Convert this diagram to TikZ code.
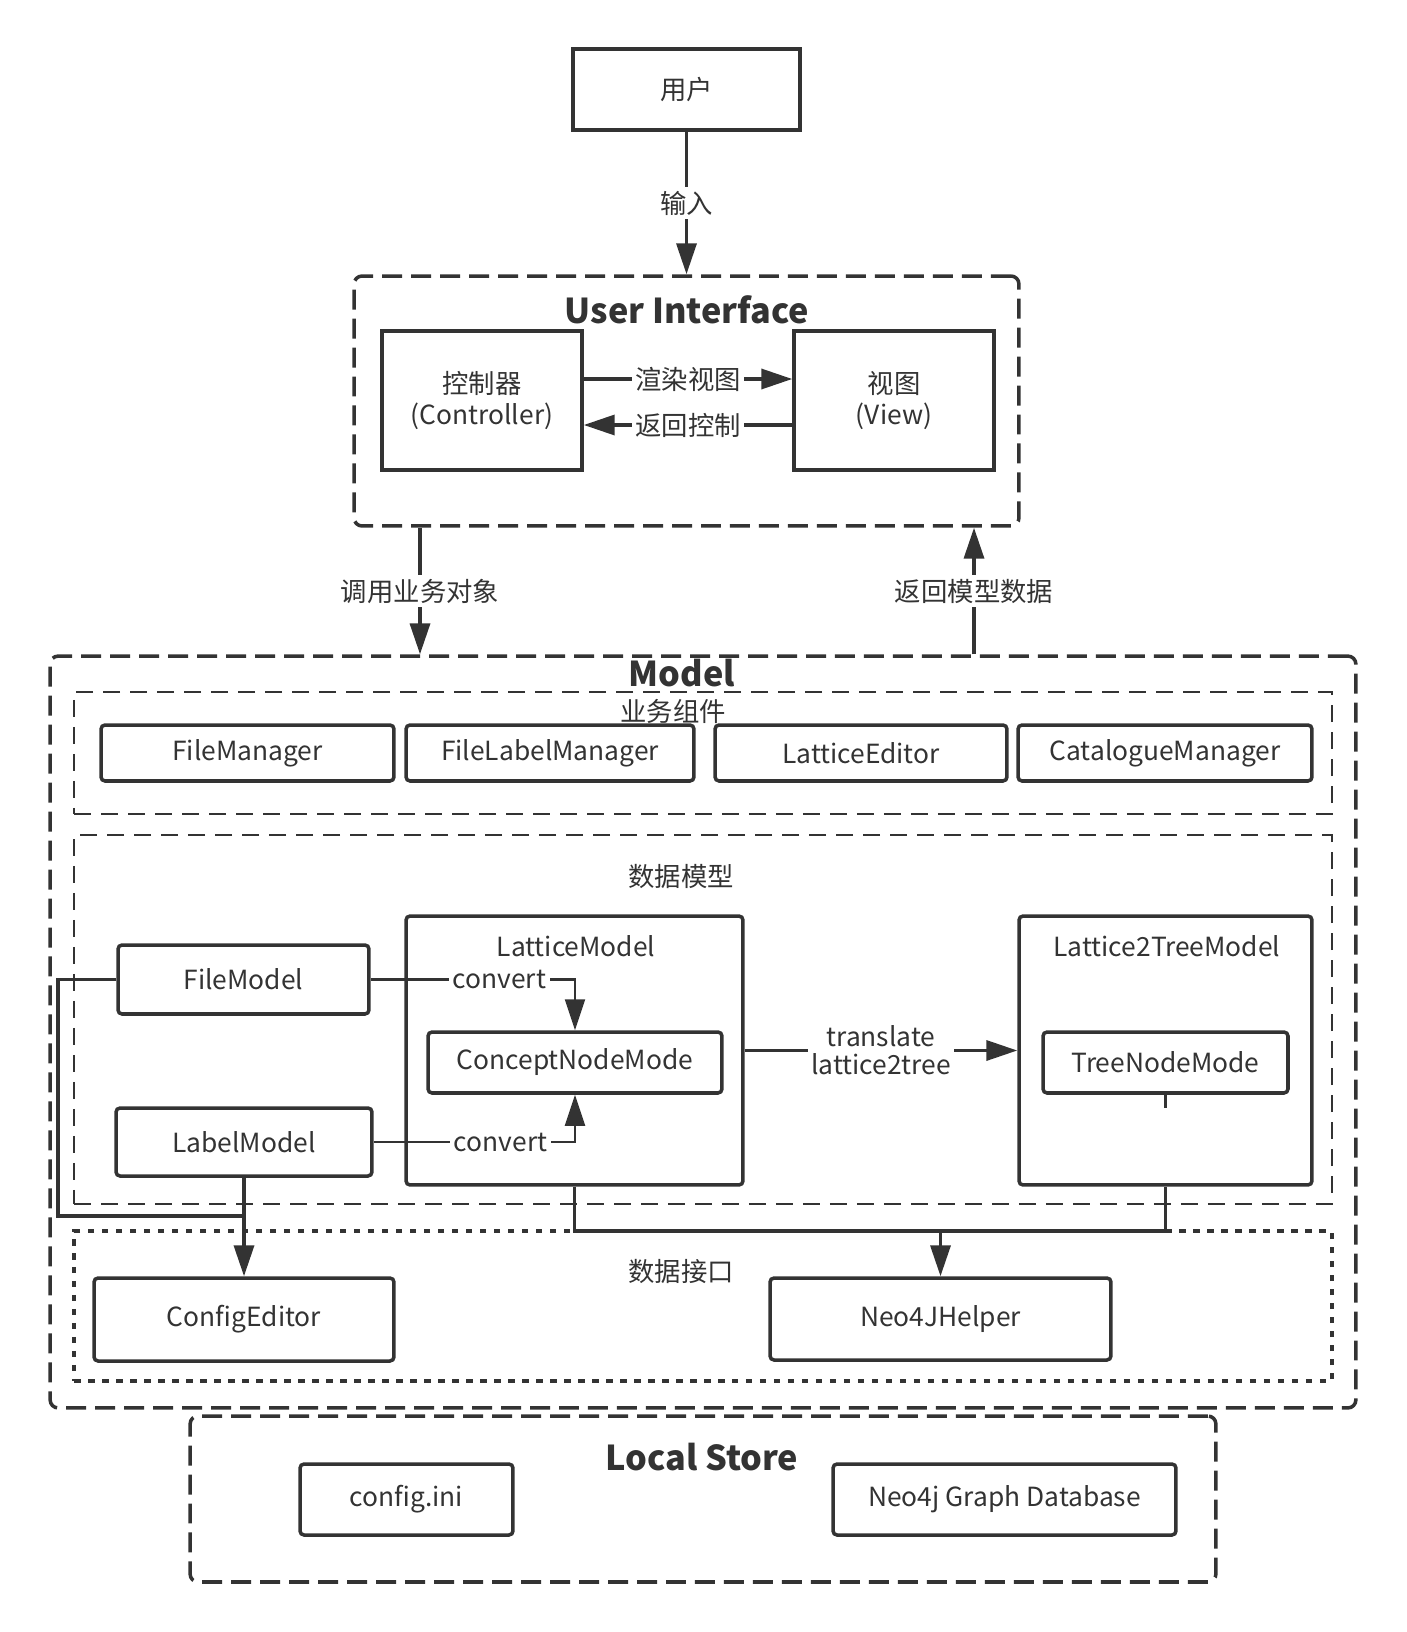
\documentclass[tikz,border=0pt]{standalone}
\usepackage{fontspec}
\setmainfont{Noto Sans CJK SC}
\usepackage{xcolor}
\usetikzlibrary{arrows.meta, positioning}
\definecolor{ink}{HTML}{333333}
\tikzset{%
	plain box/.style={
		draw=ink,
		line width=2pt,
		inner sep=0pt
	},
	round box/.style={
		plain box,
		rounded corners=0.08cm
	},
	group box/.style={
		draw=ink,
		line width=2pt,
		rounded corners=0.16cm,
		dash pattern=on 0.4cm off 0.18cm
	},
	inner group/.style={
		draw=ink,
		line width=1pt,
		dash pattern=on 0.34cm off 0.2cm
	},
	dotted group/.style={
		draw=ink,
		line width=2.2pt,
		dash pattern=on 0.13cm off 0.15cm
	},
	box title/.style={
		font=\fontsize{19.5}{23}\selectfont\bfseries
	},
	flow/.style={
		draw=ink,
		line width=2pt,
		-{Triangle[length=0.62cm, width=0.4cm]}
	},
	thin flow/.style={
		flow,
		line width=1.3pt
	},
	edge label/.style={
		fill=white,
		inner sep=2pt
	},
}
\begin{document}
\begin{tikzpicture}[x=0.02cm, y=-0.02cm, font=\fontsize{15}{18}\selectfont, text=ink]
	\useasboundingbox (0,0) rectangle (1406,1632);

	% groups
	\node[group box, minimum width=13.3cm, minimum height=5cm] (ui) at (686.5,401) {};
	\node[group box, minimum width=26.12cm, minimum height=15.04cm] (model) at (703,1032) {};
	\node[group box, minimum width=20.52cm, minimum height=3.32cm] (store) at (703,1499) {};
	\node[inner group, minimum width=25.16cm, minimum height=2.44cm] (business) at (703,753) {};
	\node[inner group, minimum width=25.16cm, minimum height=7.38cm] (datamodel) at (703,1019.5) {};
	\node[dotted group, minimum width=25.16cm, minimum height=3cm] (datainterface) at (703,1306) {};

	\node[box title] (uititle) at (687,310) {User Interface};
	\node[box title] (modeltitle) at (682,673) {Model};
	\node[box title] (storetitle) at (702,1457) {Local Store};
	\node (businesstitle) at (673,711) {业务组件};
	\node (datamodeltitle) at (681,877) {数据模型};
	\node (interfacetitle) at (681,1271) {数据接口};

	% user interface
	\node[plain box, minimum width=4.54cm, minimum height=1.62cm] (user) at (686.5,89.5) {用户};
	\node[plain box, minimum width=4cm, minimum height=2.78cm, align=center] (controller) at (482,400.5) {控制器\\(Controller)};
	\node[plain box, minimum width=4cm, minimum height=2.78cm, align=center] (view) at (894,400.5) {视图\\(View)};

	% business components
	\node[round box, minimum width=5.86cm, minimum height=1.12cm] (filemanager) at (247.5,753) {FileManager};
	\node[round box, minimum width=5.76cm, minimum height=1.12cm] (filelabelmanager) at (550,753) {FileLabelManager};
	\node[round box, minimum width=5.84cm, minimum height=1.12cm] (latticeeditor) at (861,753) {LatticeEditor};
	\node[round box, minimum width=5.88cm, minimum height=1.12cm] (cataloguemanager) at (1165,753) {CatalogueManager};

	% data model
	\node[round box, minimum width=5.02cm, minimum height=1.38cm] (filemodel) at (243.5,979.5) {FileModel};
	\node[round box, minimum width=5.12cm, minimum height=1.36cm] (labelmodel) at (244,1142) {LabelModel};
	\node[round box, minimum width=6.74cm, minimum height=5.38cm] (latticemodel) at (574.5,1050.5) {};
	\node (latticetitle) at (576,946) {LatticeModel};
	\node[round box, minimum width=5.88cm, minimum height=1.22cm] (conceptnode) at (575,1062.5) {ConceptNodeMode};
	\node[round box, minimum width=5.86cm, minimum height=5.38cm] (treemodel) at (1165.5,1050.5) {};
	\node (treetitle) at (1167,946) {Lattice2TreeModel};
	\node[round box, minimum width=4.9cm, minimum height=1.22cm] (treenode) at (1165.5,1062.5) {TreeNodeMode};

	% data interface
	\node[round box, minimum width=6cm, minimum height=1.66cm] (configeditor) at (244,1319.5) {ConfigEditor};
	\node[round box, minimum width=6.82cm, minimum height=1.64cm] (neohelper) at (940.5,1319) {Neo4JHelper};

	% local store
	\node[round box, minimum width=4.26cm, minimum height=1.42cm] (configini) at (406.5,1499.5) {config.ini};
	\node[round box, minimum width=6.86cm, minimum height=1.42cm] (graphdb) at (1004.5,1499.5) {Neo4j Graph Database};

	% helper points
	\coordinate (callx) at (420,0);
	\coordinate (backx) at (974,0);
	\coordinate (rowa) at (0,379);
	\coordinate (rowb) at (0,425);
	\coordinate (fmloop) at (58,1216);
	\coordinate (busline) at (0,1231);
	\coordinate (stub) at (1165.5,1108);

	% connectors
	\draw[flow] (user.south) -- node[edge label] {输入} (ui.north);
	\draw[flow] (controller.east |- rowa) -- node[edge label] {渲染视图} (view.west |- rowa);
	\draw[flow] (view.west |- rowb) -- node[edge label] {返回控制} (controller.east |- rowb);
	\draw[flow] (callx |- ui.south) -- node[edge label] {调用业务对象} (callx |- model.north);
	\draw[flow] (backx |- model.north) -- node[edge label] {返回模型数据} (backx |- ui.south);

	\draw[thin flow] (filemodel.east) -| node[edge label, pos=0.315] {convert} (conceptnode.north);
	\draw[thin flow] (labelmodel.east) -| node[edge label, pos=0.315] {convert} (conceptnode.south);
	\draw[flow] (latticemodel.east) -- node[edge label, align=center, font=\fontsize{15}{16}\selectfont] {translate\\lattice2tree} (treemodel.west);
	\draw[draw=ink, line width=1.4pt] (treenode.south) -- (stub);

	\draw[draw=ink, line width=2pt] (filemodel.west) -| (fmloop) -- (labelmodel.south |- fmloop);
	\draw[flow] (labelmodel.south) -- (configeditor.north);
	\draw[draw=ink, line width=2pt] (latticemodel.south) |- (treemodel.south |- busline) -- (treemodel.south);
	\draw[flow] (neohelper.north |- busline) -- (neohelper.north);

\end{tikzpicture}
\end{document}
